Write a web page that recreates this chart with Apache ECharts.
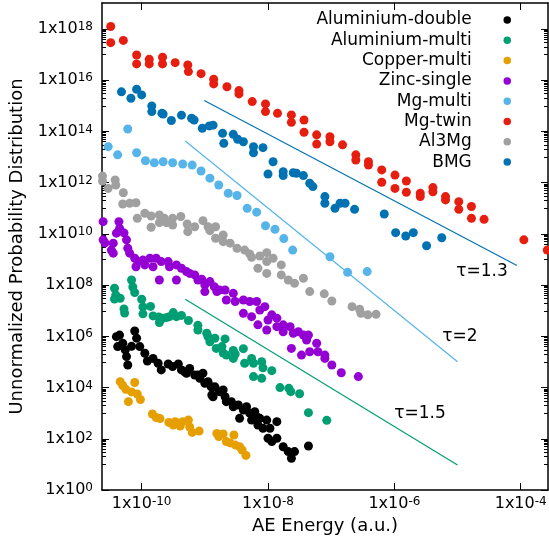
<!DOCTYPE html>
<html>
<head>
<meta charset="utf-8">
<script src="https://cdn.jsdelivr.net/npm/echarts@6/dist/echarts.min.js"></script>
<style>
	html, body { margin: 0; padding: 0; background: #fff; }
	#chart { width: 549px; height: 549px; }
</style>
</head>
<body>
<div id="chart"></div>
<script>
const alDouble = [
	[-10.40, 5.99], [-10.38, 5.60], [-10.35, 6.05], [-10.30, 5.73], [-10.26, 5.47], [-10.24, 5.21], [-10.22, 4.88],
	[-10.16, 5.61], [-10.11, 6.21], [-10.08, 5.93], [-10.03, 5.60], [-9.95, 5.34], [-9.91, 5.04], [-9.82, 5.14],
	[-9.74, 4.95], [-9.69, 4.69], [-9.58, 4.92], [-9.51, 4.82], [-9.42, 4.92], [-9.37, 4.69], [-9.32, 4.62],
	[-9.29, 4.56], [-9.24, 4.75], [-9.16, 4.49], [-9.11, 4.49], [-9.08, 4.36], [-9.03, 4.56], [-9.00, 4.17],
	[-8.95, 4.23], [-8.90, 4.03], [-8.89, 3.71], [-8.87, 3.64], [-8.84, 4.03], [-8.77, 3.84], [-8.71, 3.91],
	[-8.68, 3.64], [-8.66, 3.45], [-8.58, 3.45], [-8.55, 3.25], [-8.47, 3.32], [-8.45, 2.80], [-8.39, 3.12],
	[-8.34, 3.25], [-8.29, 3.00], [-8.26, 2.73], [-8.21, 3.06], [-8.18, 2.86], [-8.13, 2.80], [-8.16, 2.54],
	[-8.08, 2.41], [-8.02, 2.73], [-7.97, 2.41], [-8.00, 2.02], [-7.86, 2.67], [-7.94, 1.89], [-7.86, 2.02],
	[-7.76, 1.69], [-7.68, 1.50], [-7.63, 1.24], [-7.58, 1.50], [-7.36, 1.72],
]
const alMulti = [
	[-10.43, 7.88], [-10.41, 7.62], [-10.43, 7.46], [-10.34, 7.49], [-10.28, 7.07], [-10.27, 6.91], [-10.16, 8.20],
	[-10.14, 7.93], [-10.11, 7.71], [-10.00, 7.45], [-9.98, 7.15], [-9.98, 6.88], [-9.86, 7.17], [-9.82, 6.80],
	[-9.73, 6.76], [-9.72, 6.54], [-9.66, 6.71], [-9.60, 6.74], [-9.56, 6.77], [-9.50, 6.93], [-9.45, 6.77],
	[-9.37, 6.82], [-9.26, 6.62], [-9.11, 6.43], [-9.11, 6.25], [-8.97, 6.12], [-8.95, 5.99], [-8.92, 5.79],
	[-8.84, 5.93], [-8.82, 5.53], [-8.73, 5.60], [-8.71, 5.35], [-8.68, 5.90], [-8.66, 5.27], [-8.55, 5.45],
	[-8.52, 5.31], [-8.55, 5.14], [-8.39, 5.52], [-8.37, 4.95], [-8.26, 5.14], [-8.23, 4.95], [-8.23, 4.43],
	[-8.10, 5.01], [-8.08, 4.77], [-8.10, 4.36], [-7.94, 4.66], [-7.81, 4.00], [-7.67, 3.97], [-7.64, 3.84],
	[-7.50, 3.76], [-7.36, 3.02], [-7.07, 2.72],
]
const copperMulti = [
	[-10.34, 4.23], [-10.30, 4.08], [-10.25, 3.93], [-10.21, 3.45], [-10.16, 3.83], [-10.11, 4.20], [-10.07, 3.75],
	[-10.02, 3.53], [-9.83, 2.97], [-9.77, 2.83], [-9.71, 2.79], [-9.57, 2.64], [-9.50, 2.54], [-9.47, 2.67],
	[-9.39, 2.50], [-9.35, 2.67], [-9.26, 2.73], [-9.24, 2.46], [-9.20, 2.25], [-9.09, 2.30], [-8.81, 2.21],
	[-8.78, 2.09], [-8.71, 2.19], [-8.66, 1.89], [-8.60, 1.84], [-8.54, 2.15], [-8.52, 1.76], [-8.45, 1.69],
	[-8.41, 1.56], [-8.35, 1.35],
]
const zincSingle = [
	[-10.61, 10.48], [-10.61, 9.77], [-10.58, 9.65], [-10.45, 9.64], [-10.48, 9.37], [-10.45, 9.25], [-10.40, 10.03],
	[-10.36, 10.48], [-10.35, 10.22], [-10.28, 10.04], [-10.24, 9.77], [-10.22, 9.44], [-10.19, 9.25], [-10.11, 9.05],
	[-10.06, 8.92], [-10.09, 8.72], [-9.98, 8.98], [-9.95, 8.79], [-9.87, 9.05], [-9.82, 8.72], [-9.77, 9.05],
	[-9.69, 8.92], [-9.72, 8.20], [-9.58, 8.92], [-9.56, 8.72], [-9.45, 8.79], [-9.45, 8.20], [-9.37, 8.66],
	[-9.29, 8.53], [-9.24, 8.46], [-9.16, 8.40], [-9.11, 8.20], [-9.05, 8.23], [-9.00, 8.01], [-9.00, 7.75],
	[-8.92, 8.14], [-8.85, 7.94], [-8.81, 7.75], [-8.77, 7.81], [-8.68, 7.81], [-8.66, 7.42], [-8.55, 7.68],
	[-8.52, 7.36], [-8.39, 7.42], [-8.39, 6.90], [-8.29, 7.36], [-8.26, 6.77], [-8.18, 7.36], [-8.13, 7.03],
	[-8.16, 6.45], [-8.05, 7.16], [-8.00, 6.64], [-8.02, 6.25], [-7.94, 6.84], [-7.86, 6.71], [-7.86, 6.38],
	[-7.76, 6.45], [-7.76, 6.18], [-7.65, 6.38], [-7.60, 6.12], [-7.52, 6.18], [-7.44, 6.05], [-7.36, 6.05],
	[-7.39, 5.86], [-7.63, 5.53], [-7.47, 5.27], [-7.34, 5.40], [-7.23, 5.73], [-7.21, 5.40], [-7.10, 5.27],
	[-7.10, 5.14], [-6.99, 4.88], [-6.84, 4.58], [-6.57, 4.43],
]
const mgMulti = [
	[-10.22, 14.10], [-10.53, 13.41], [-10.38, 13.09], [-10.08, 13.17], [-9.94, 12.86], [-9.80, 12.78], [-9.66, 12.82],
	[-9.51, 12.78], [-9.35, 12.73], [-9.20, 12.69], [-9.06, 12.46], [-8.92, 12.18], [-8.78, 11.91], [-8.63, 11.59],
	[-8.49, 11.50], [-8.33, 11.00], [-8.18, 10.85], [-8.04, 10.32], [-7.89, 10.18], [-7.75, 9.82], [-7.61, 9.37],
	[-7.02, 9.11], [-6.74, 8.50], [-6.43, 8.53],
]
const mgTwin = [
	[-10.49, 18.10], [-10.49, 17.47], [-10.29, 17.56], [-10.08, 16.99], [-10.08, 16.64], [-9.88, 16.82], [-9.88, 16.64],
	[-9.67, 16.90], [-9.67, 16.64], [-9.47, 16.69], [-9.27, 16.60], [-9.26, 16.34], [-9.06, 16.26], [-8.86, 16.04],
	[-8.86, 15.86], [-8.65, 15.75], [-8.46, 15.60], [-8.46, 15.47], [-8.25, 15.17], [-8.04, 15.08], [-8.04, 14.78],
	[-7.85, 14.71], [-7.63, 14.65], [-7.63, 14.36], [-7.43, 14.45], [-7.43, 13.97], [-7.23, 13.87], [-7.23, 13.51],
	[-7.02, 13.80], [-7.02, 13.60], [-6.82, 13.48], [-6.61, 13.09], [-6.61, 12.89], [-6.41, 12.82], [-6.41, 12.69],
	[-6.20, 12.50], [-6.20, 12.02], [-5.99, 12.30], [-5.99, 11.78], [-5.81, 12.07], [-5.81, 11.63], [-5.59, 11.59],
	[-5.59, 11.46], [-5.39, 11.81], [-5.39, 11.65], [-5.19, 11.46], [-5.19, 11.33], [-4.98, 11.26], [-4.98, 10.96],
	[-4.78, 11.07], [-4.78, 10.61], [-4.58, 10.57], [-3.95, 9.77], [-3.58, 9.37],
]
const al3Mg = [
	[-10.62, 12.26], [-10.62, 12.07], [-10.53, 11.78], [-10.42, 12.11], [-10.41, 11.91], [-10.29, 11.61], [-10.30, 11.17],
	[-10.19, 11.20], [-10.09, 11.22], [-10.07, 10.61], [-9.95, 10.81], [-9.85, 10.70], [-9.85, 10.26], [-9.72, 10.74],
	[-9.72, 10.44], [-9.64, 10.61], [-9.61, 10.44], [-9.51, 10.61], [-9.51, 10.35], [-9.38, 10.68], [-9.28, 10.39],
	[-9.27, 10.09], [-9.16, 10.28], [-9.03, 10.52], [-8.95, 10.28], [-8.92, 10.13], [-8.83, 10.28], [-8.83, 9.83],
	[-8.71, 9.96], [-8.71, 9.70], [-8.60, 9.64], [-8.49, 9.44], [-8.37, 9.37], [-8.29, 9.22], [-8.26, 9.09],
	[-8.13, 9.14], [-8.02, 9.27], [-8.02, 8.92], [-7.92, 9.05], [-8.16, 8.66], [-8.02, 8.46], [-7.79, 8.79],
	[-7.79, 8.40], [-7.68, 8.20], [-7.58, 8.07], [-7.44, 8.27], [-7.34, 7.75], [-7.11, 7.66], [-6.99, 7.38],
	[-6.67, 7.16], [-6.55, 7.06], [-6.53, 6.90], [-6.42, 6.84], [-6.29, 6.86],
]
const bmg = [
	[-10.32, 15.55], [-10.17, 15.30], [-10.08, 15.65], [-10.00, 15.43], [-9.84, 15.00], [-9.84, 14.78], [-9.68, 14.71],
	[-9.66, 14.68], [-9.53, 14.43], [-9.37, 14.64], [-9.21, 14.52], [-9.17, 14.45], [-9.04, 14.13], [-8.93, 14.22],
	[-8.87, 14.25], [-8.72, 13.93], [-8.70, 13.54], [-8.55, 13.89], [-8.48, 13.70], [-8.39, 13.60], [-8.23, 13.41],
	[-8.23, 13.17], [-8.08, 13.37], [-8.00, 12.34], [-7.92, 12.82], [-7.76, 12.43], [-7.76, 12.28], [-7.60, 12.39],
	[-7.55, 12.37], [-7.44, 12.28], [-7.34, 11.98], [-7.29, 11.85], [-7.10, 11.46], [-7.10, 11.20], [-6.94, 11.00],
	[-6.86, 11.20], [-6.78, 11.20], [-6.63, 10.96], [-6.16, 10.78], [-5.98, 10.05], [-5.82, 9.92], [-5.70, 10.05],
	[-5.49, 9.54], [-5.25, 9.85],
]

// guide lines, slopes -1.3, -2 and -1.5
const fitBmg = [[-9.01, 15.21], [-4.06, 8.77]]
const fitMgMulti = [[-9.31, 13.63], [-5.00, 5.01]]
const fitAlMulti = [[-9.31, 7.45], [-5.00, 0.98]]

const seriesNames = ['Aluminium-double', 'Aluminium-multi', 'Copper-multi', 'Zinc-single', 'Mg-multi', 'Mg-twin', 'Al3Mg', 'BMG']
const seriesData = [alDouble, alMulti, copperMulti, zincSingle, mgMulti, mgTwin, al3Mg, bmg]
const seriesColors = ['#000000', '#009e73', '#e69f00', '#9400d3', '#56b4e9', '#e51e10', '#a0a0a0', '#0072b2']

const xTickExps = [-10, -8, -6, -4]
const yTickExps = [0, 2, 4, 6, 8, 10, 12, 14, 16, 18]
const xMin = -10.628
const xMax = -3.568
const yMin = 0
const yMax = 19.02

// minor ticks between the major ones, at m x 10^(2k+1)
const yMinorTicks = []
for (let k = 0; k < 9; k++) {
	for (let m = 1; m <= 9; m++) yMinorTicks.push(2 * k + 1 + Math.log10(m))
}

const font = 'DejaVu Sans'
const supLabel = v => '1x10{s|' + v + '}'
const labelRich = { s: { fontSize: 12, fontFamily: font, color: '#000', verticalAlign: 'top' } }
const frameLine = { show: true, onZero: false, lineStyle: { color: '#000', width: 1.5 } }

const chart = echarts.init(document.getElementById('chart'))

const series = seriesData.map((data, i) => ({
	name: seriesNames[i],
	type: 'scatter',
	data: data,
	symbol: 'circle',
	symbolSize: 9,
	itemStyle: { color: seriesColors[i], opacity: 1 },
	xAxisIndex: 0,
	yAxisIndex: 0,
}))
const fits = [[fitBmg, '#0072b2'], [fitMgMulti, '#56b4e9'], [fitAlMulti, '#009e73']]
fits.forEach(([data, color]) => {
	series.push({
		type: 'line',
		data: data,
		showSymbol: false,
		symbol: 'none',
		lineStyle: { color: color, width: 1.2 },
		xAxisIndex: 0,
		yAxisIndex: 0,
		silent: true,
	})
})

const yAxisBase = {
	type: 'value',
	min: yMin,
	max: yMax,
	splitLine: { show: false },
}

const option = {
	animation: false,
	backgroundColor: '#fff',
	grid: { left: 102, right: 1, top: 3, bottom: 59, containLabel: false, outerBoundsMode: 'none' },
	legend: {
		data: seriesNames,
		orient: 'vertical',
		align: 'right',
		right: 38,
		top: 11.5,
		padding: 0,
		icon: 'circle',
		itemWidth: 61,
		itemHeight: 7.5,
		itemGap: 3.3,
		selectedMode: false,
		textStyle: { fontSize: 17, fontFamily: font, color: '#000', lineHeight: 17 },
	},
	xAxis: [
		{
			type: 'value',
			position: 'bottom',
			min: xMin,
			max: xMax,
			name: 'AE Energy (a.u.)',
			nameLocation: 'middle',
			nameGap: 26,
			nameTextStyle: { fontSize: 18, fontFamily: font, color: '#000' },
			axisLine: frameLine,
			axisTick: { inside: true, length: 7, customValues: xTickExps, lineStyle: { color: '#000', width: 1 } },
			axisLabel: { customValues: xTickExps, formatter: supLabel, margin: 6, fontSize: 16, fontFamily: font, color: '#000', rich: labelRich },
			splitLine: { show: false },
		},
		{
			type: 'value',
			position: 'top',
			min: xMin,
			max: xMax,
			axisLine: frameLine,
			axisTick: { inside: true, length: 7, customValues: xTickExps, lineStyle: { color: '#000', width: 1 } },
			axisLabel: { show: false },
			splitLine: { show: false },
		},
	],
	yAxis: [
		{
			...yAxisBase,
			position: 'left',
			name: 'Unnormalized Probability Distribution',
			nameLocation: 'middle',
			nameGap: 72,
			nameTextStyle: { fontSize: 18, fontFamily: font, color: '#000' },
			axisLine: frameLine,
			axisTick: { inside: true, length: 7, customValues: yTickExps, lineStyle: { color: '#000', width: 1 } },
			axisLabel: { customValues: yTickExps, formatter: supLabel, margin: 9, fontSize: 16, fontFamily: font, color: '#000', rich: labelRich },
		},
		{
			...yAxisBase,
			position: 'left',
			axisLine: { show: false },
			axisTick: { inside: true, length: 4, customValues: yMinorTicks, lineStyle: { color: '#000', width: 1 } },
			axisLabel: { show: false },
		},
		{
			...yAxisBase,
			position: 'right',
			axisLine: frameLine,
			axisTick: { inside: true, length: 7, customValues: yTickExps, lineStyle: { color: '#000', width: 1 } },
			axisLabel: { show: false },
		},
		{
			...yAxisBase,
			position: 'right',
			axisLine: { show: false },
			axisTick: { inside: true, length: 4, customValues: yMinorTicks, lineStyle: { color: '#000', width: 1 } },
			axisLabel: { show: false },
		},
	],
	graphic: [
		{ type: 'text', x: 482, y: 272, style: { text: 'τ=1.3', fontSize: 17, fontFamily: font, fill: '#000', align: 'center', verticalAlign: 'middle' } },
		{ type: 'text', x: 460, y: 337, style: { text: 'τ=2', fontSize: 17, fontFamily: font, fill: '#000', align: 'center', verticalAlign: 'middle' } },
		{ type: 'text', x: 420, y: 414, style: { text: 'τ=1.5', fontSize: 17, fontFamily: font, fill: '#000', align: 'center', verticalAlign: 'middle' } },
	],
	series: series,
}

chart.setOption(option)
</script>
</body>
</html>
